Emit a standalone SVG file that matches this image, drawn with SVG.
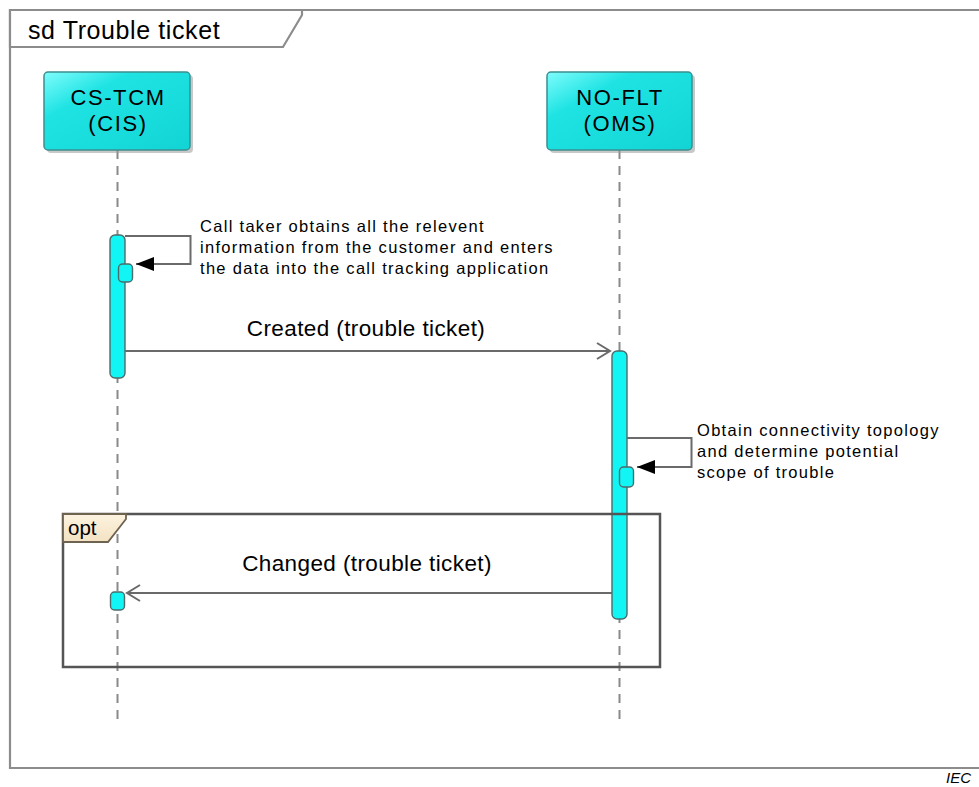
<svg xmlns="http://www.w3.org/2000/svg" width="979" height="787" viewBox="0 0 979 787">
<style>
  text { font-family: "Liberation Sans", Arial, sans-serif; fill: #000; }
  .frame { fill: none; stroke: #8c8c8c; stroke-width: 2.2; }
  .head { fill: url(#cyan); stroke: #3b8f8f; stroke-width: 1.5; }
  .shadow { fill: #9a9a9a; opacity: 0.55; }
  .hdtxt { font-size: 22px; letter-spacing: 1.6px; text-anchor: middle; }
  .life { stroke: #8a8a8a; stroke-width: 2; stroke-dasharray: 9 7; fill: none; }
  .act { fill: #12f5f5; stroke: #4d6b6b; stroke-width: 1.4; }
  .msg { stroke: #6a6a6a; stroke-width: 2; fill: none; }
  .note { font-size: 16.5px; letter-spacing: 1.3px; }
  .lbl { font-size: 22.5px; letter-spacing: 0.4px; text-anchor: middle; }
  .opt { fill: none; stroke: #555; stroke-width: 2.5; }
</style>
<defs>
  <linearGradient id="cyan" x1="0" y1="0" x2="1" y2="1">
    <stop offset="0" stop-color="#7ffcfc"/>
    <stop offset="0.3" stop-color="#1fe3e3"/>
    <stop offset="1" stop-color="#12d4d4"/>
  </linearGradient>
  <linearGradient id="beige" x1="0" y1="0" x2="0" y2="1">
    <stop offset="0" stop-color="#fdf3e0"/>
    <stop offset="1" stop-color="#f3e2c2"/>
  </linearGradient>
  <marker id="open" markerWidth="16" markerHeight="20" refX="14" refY="9" orient="auto" markerUnits="userSpaceOnUse">
    <path d="M1,1 L14,9 L1,17" fill="none" stroke="#6a6a6a" stroke-width="2"/>
  </marker>
  <marker id="filled" markerWidth="20" markerHeight="16" refX="18" refY="8" orient="auto" markerUnits="userSpaceOnUse">
    <path d="M0,1 L18,8 L0,15 Z" fill="#000"/>
  </marker>
</defs>

<rect x="0" y="0" width="979" height="787" fill="#fff"/>

<g id="frame">
  <path class="frame" d="M979,10 H10 V768 H979"/>
  <path d="M10,47 V10 H302 V15 L283,47 Z" fill="#fff" stroke="#8c8c8c" stroke-width="2.2"/>
  <text x="28" y="39" font-size="25" letter-spacing="0.6">sd Trouble ticket</text>
</g>

<g id="lifelines">
  <line class="life" x1="117.5" y1="150" x2="117.5" y2="726"/>
  <line class="life" x1="619.5" y1="150" x2="619.5" y2="726"/>
</g>

<g id="cs-tcm">
  <rect class="shadow" x="47" y="75" width="146" height="78" rx="4"/>
  <rect class="head" x="44" y="72" width="146" height="78" rx="4"/>
  <text class="hdtxt" x="118" y="105">CS-TCM</text>
  <text class="hdtxt" x="118" y="131">(CIS)</text>
  <rect class="act" x="110" y="235" width="15" height="143" rx="5"/>
  <rect class="act" x="118.5" y="264" width="14" height="18" rx="4"/>
  <rect class="act" x="110.5" y="592" width="14" height="18" rx="4"/>
</g>

<g id="no-flt">
  <rect class="shadow" x="550" y="75" width="145" height="78" rx="4"/>
  <rect class="head" x="547" y="72" width="145" height="78" rx="4"/>
  <text class="hdtxt" x="620" y="105">NO-FLT</text>
  <text class="hdtxt" x="620" y="131">(OMS)</text>
  <rect class="act" x="612" y="351" width="15" height="268" rx="5"/>
  <rect class="act" x="619.5" y="467" width="14" height="20" rx="4"/>
</g>

<g id="opt-fragment">
  <rect class="opt" x="63" y="514" width="597" height="153"/>
  <path d="M63,514 H126 V519 L108,542 H63 Z" fill="url(#beige)" stroke="#6e6250" stroke-width="1.8"/>
  <text x="68" y="535" font-size="20.5">opt</text>
</g>

<g id="connectors">
  <path class="msg" d="M125,236 H190.5 V264 H136" marker-end="url(#filled)"/>
  <line class="msg" x1="125" y1="351" x2="610" y2="351" marker-end="url(#open)"/>
  <path class="msg" d="M627,438 H691.5 V467 H637" marker-end="url(#filled)"/>
  <line class="msg" x1="612" y1="593" x2="127" y2="593" marker-end="url(#open)"/>
</g>

<g id="labels">
  <text class="note" x="200" y="232">Call taker obtains all the relevent</text>
  <text class="note" x="200" y="253">information from the customer and enters</text>
  <text class="note" x="200" y="274">the data into the call tracking application</text>
  <text class="lbl" x="366" y="336">Created (trouble ticket)</text>
  <text class="note" x="697" y="436">Obtain connectivity topology</text>
  <text class="note" x="697" y="457">and determine potential</text>
  <text class="note" x="697" y="478">scope of trouble</text>
  <text class="lbl" x="367" y="571">Changed (trouble ticket)</text>
  <text x="946" y="783" font-size="15" font-style="italic">IEC</text>
</g>
</svg>
